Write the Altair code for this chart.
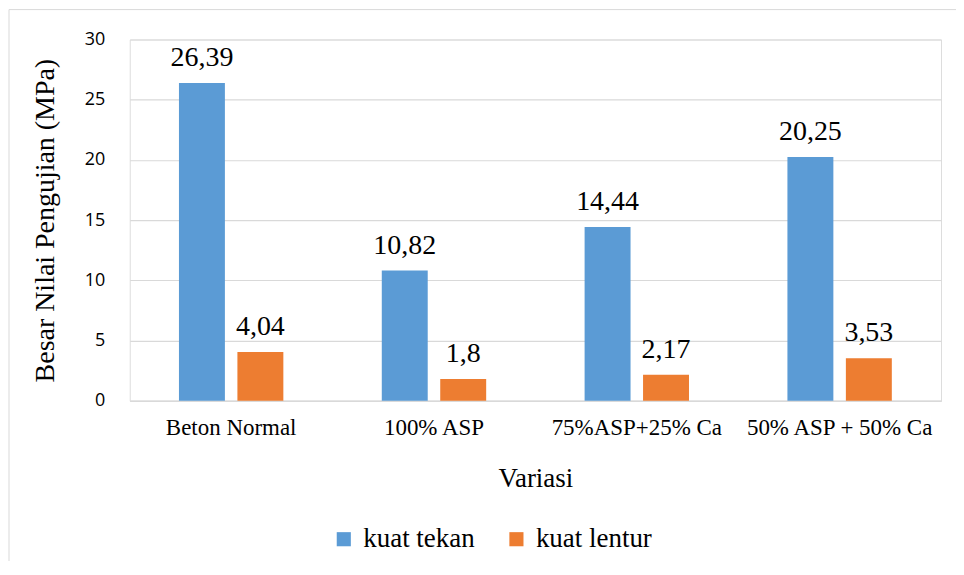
import altair as alt
import pandas as pd

categories = ["Beton Normal", "100% ASP", "75%ASP+25% Ca", "50% ASP + 50% Ca"]
series = ["kuat tekan", "kuat lentur"]
kuat_tekan = [26.39, 10.82, 14.44, 20.25]
kuat_lentur = [4.04, 1.8, 2.17, 3.53]
colors = ["#5b9bd5", "#ed7d31"]

rows = []
for c, t, l in zip(categories, kuat_tekan, kuat_lentur):
    rows.append({"Variasi": c, "seri": series[0], "nilai": t, "label": str(t).replace(".", ",")})
    rows.append({"Variasi": c, "seri": series[1], "nilai": l, "label": str(l).replace(".", ",")})
df = pd.DataFrame(rows)

SERIF = "Liberation Serif"
SANS = "Open Sans"

x = alt.X("Variasi:N", sort=categories,
          scale=alt.Scale(paddingInner=0, paddingOuter=0),
          axis=alt.Axis(title="Variasi", labelAngle=0, labelFont=SERIF, labelFontSize=23,
                        labelColor="#000", labelLimit=0, titleFont=SERIF, titleFontSize=27,
                        titleFontWeight="normal", titleColor="#000", titlePadding=26, labelPadding=16,
                        ticks=False, domainColor="#d9d9d9", domainWidth=1.5, grid=False))
y = alt.Y("nilai:Q", scale=alt.Scale(domain=[0, 30]),
          axis=alt.Axis(title="Besar Nilai Pengujian (MPa)", values=[0, 5, 10, 15, 20, 25, 30],
                        labelFont=SANS, labelFontSize=18, labelColor="#000", labelPadding=25,
                        titleFont=SERIF, titleFontSize=28, titleFontWeight="normal", titleColor="#000",
                        titlePadding=25, ticks=False, domain=False, gridColor="#d9d9d9", gridWidth=1.2))
xo = alt.XOffset("seri:N", sort=series,
                 scale=alt.Scale(paddingInner=0.214, paddingOuter=0.842))
color = alt.Color("seri:N", sort=series, scale=alt.Scale(domain=series, range=colors),
                  legend=alt.Legend(title=None, orient="none", legendX=201, legendY=487,
                                    direction="horizontal", symbolType="square", symbolSize=200,
                                    symbolStrokeWidth=0, labelFont=SERIF, labelFontSize=27,
                                    labelColor="#000", columnPadding=28, labelOffset=6))

base = alt.Chart(df)
bars = base.mark_bar().encode(x=x, xOffset=xo, y=y, color=color)
text = base.mark_text(baseline="alphabetic", dy=-17, font=SERIF, fontSize=28, color="#000").encode(
    x=alt.X("Variasi:N", sort=categories), xOffset=xo, y="nilai:Q", text="label:N")

border = alt.Chart(pd.DataFrame({"a": [0]})).mark_rect(
    fill=None, stroke="#d9d9d9", strokeWidth=1).encode(
    x=alt.value(-121), x2=alt.value(900), y=alt.value(-30), y2=alt.value(600))

chart = alt.layer(border, bars, text).properties(
    width=813, height=362,
    autosize=alt.AutoSizeParams(type="none"),
    padding={"left": 122, "top": 31, "right": 15, "bottom": 160},
).configure_view(stroke=None).configure(background="white")

chart.save("out.html", embed_options={"renderer": "svg", "actions": False})
